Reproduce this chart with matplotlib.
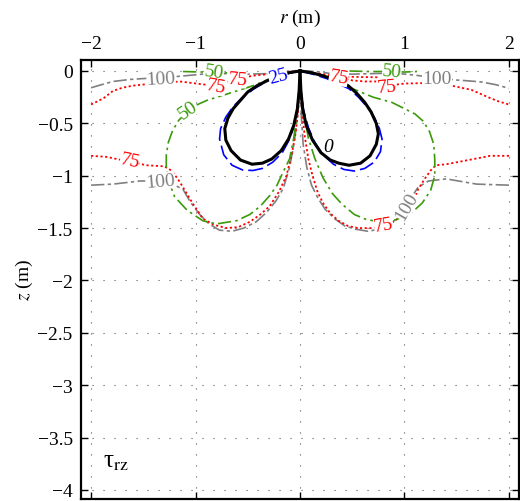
import matplotlib.pyplot as plt
import numpy as np

plt.rcParams['font.family'] = ['Liberation Serif', 'DejaVu Serif']
plt.rcParams['mathtext.fontset'] = 'stix'

# contour lines, (r, z) in metres
c0_left = [(0, 0), (-0.1, -0.015), (-0.19, -0.045), (-0.30, -0.085), (-0.41, -0.14),
           (-0.50, -0.20), (-0.57, -0.28), (-0.64, -0.36), (-0.69, -0.45), (-0.72, -0.55),
           (-0.71, -0.66), (-0.66, -0.76), (-0.57, -0.85), (-0.46, -0.89), (-0.36, -0.88),
           (-0.27, -0.84), (-0.18, -0.76), (-0.11, -0.65), (-0.06, -0.52), (-0.025, -0.36),
           (-0.008, -0.18), (0, 0)]
c0_right = [(0, 0), (0.1, -0.015), (0.2, -0.04), (0.36, -0.09), (0.46, -0.14), (0.54, -0.21),
            (0.62, -0.30), (0.68, -0.39), (0.73, -0.50), (0.75, -0.60), (0.73, -0.70),
            (0.67, -0.81), (0.58, -0.88), (0.47, -0.90), (0.37, -0.88), (0.29, -0.85),
            (0.2, -0.78), (0.12, -0.66), (0.06, -0.52), (0.025, -0.36), (0.008, -0.18), (0, 0)]

c25_left = [(0, 0), (-0.1, -0.02), (-0.2, -0.05), (-0.32, -0.10), (-0.44, -0.17), (-0.55, -0.25),
            (-0.64, -0.34), (-0.71, -0.44), (-0.76, -0.55), (-0.77, -0.65), (-0.73, -0.80),
            (-0.65, -0.90), (-0.55, -0.945), (-0.45, -0.95), (-0.36, -0.93), (-0.26, -0.87),
            (-0.17, -0.78), (-0.11, -0.67), (-0.065, -0.55), (-0.03, -0.38), (-0.01, -0.2), (0, 0)]
c25_right = [(0, 0), (0.12, -0.03), (0.25, -0.07), (0.36, -0.12), (0.47, -0.17), (0.56, -0.25),
             (0.64, -0.34), (0.71, -0.44), (0.76, -0.55), (0.785, -0.65), (0.77, -0.77),
             (0.71, -0.87), (0.62, -0.93), (0.52, -0.955), (0.42, -0.94), (0.32, -0.89),
             (0.22, -0.80), (0.14, -0.68), (0.08, -0.54), (0.035, -0.38), (0.01, -0.2), (0, 0)]

c50_left = [(0, 0), (-0.15, -0.03), (-0.3, -0.08), (-0.45, -0.14), (-0.54, -0.17), (-0.70, -0.22),
            (-0.89, -0.28), (-0.98, -0.32), (-1.07, -0.38), (-1.16, -0.47), (-1.22, -0.57),
            (-1.26, -0.68), (-1.28, -0.80), (-1.28, -0.94), (-1.25, -1.07), (-1.20, -1.20),
            (-1.08, -1.33), (-0.93, -1.43), (-0.80, -1.46), (-0.61, -1.43), (-0.48, -1.37),
            (-0.38, -1.29), (-0.29, -1.19), (-0.22, -1.09), (-0.16, -0.96), (-0.10, -0.84),
            (-0.06, -0.64), (-0.03, -0.42), (-0.01, -0.2), (0, 0)]
c50_right = [(0, 0), (0.15, -0.03), (0.3, -0.08), (0.46, -0.15), (0.53, -0.18), (0.70, -0.25),
             (0.88, -0.30), (1.0, -0.36), (1.10, -0.41), (1.18, -0.48), (1.24, -0.58),
             (1.28, -0.70), (1.29, -0.85), (1.29, -1.0), (1.25, -1.14), (1.17, -1.26),
             (1.06, -1.36), (0.92, -1.42), (0.78, -1.44), (0.64, -1.42), (0.52, -1.37),
             (0.40, -1.27), (0.31, -1.17), (0.22, -1.02), (0.14, -0.83), (0.08, -0.64),
             (0.035, -0.40), (0.01, -0.2), (0, 0)]
c50_top_left = [(-1.12, -0.005), (-0.95, -0.01), (-0.82, -0.01), (-0.68, -0.02), (-0.55, -0.02)]
c50_top_right = [(0.47, 0.0), (0.65, -0.005), (0.88, -0.005), (1.0, -0.01), (1.12, -0.005)]

c75_top_left = [(-2.0, -0.32), (-1.94, -0.29), (-1.88, -0.26), (-1.79, -0.19), (-1.70, -0.16),
                (-1.60, -0.14), (-1.41, -0.12), (-1.15, -0.10), (-0.99, -0.12), (-0.83, -0.14),
                (-0.72, -0.11), (-0.62, -0.08), (-0.45, -0.045), (-0.3, -0.03), (-0.15, -0.01), (0, 0)]
c75_top_right = [(0, 0), (0.15, -0.02), (0.28, -0.04), (0.38, -0.06), (0.50, -0.09), (0.62, -0.10),
                 (0.73, -0.10), (0.83, -0.14), (0.92, -0.13), (1.0, -0.12), (1.22, -0.115),
                 (1.45, -0.14), (1.64, -0.18), (1.80, -0.25), (1.90, -0.29), (2.0, -0.32)]
c75_top_extra = [(0.45, -0.055), (0.60, -0.058), (0.74, -0.06)]
c75_low_left = [(-2.0, -0.81), (-1.85, -0.82), (-1.66, -0.86), (-1.47, -0.90), (-1.30, -0.91),
                (-1.23, -0.95), (-1.17, -1.03), (-1.12, -1.11), (-1.03, -1.26), (-0.93, -1.41),
                (-0.82, -1.47), (-0.70, -1.50), (-0.59, -1.49), (-0.48, -1.44), (-0.38, -1.37),
                (-0.29, -1.29), (-0.20, -1.15), (-0.13, -1.0), (-0.08, -0.80), (-0.04, -0.58),
                (-0.015, -0.35), (0, 0)]
c75_low_right = [(2.0, -0.81), (1.82, -0.81), (1.56, -0.86), (1.40, -0.89), (1.30, -0.90),
                 (1.25, -0.95), (1.20, -1.02), (1.13, -1.13), (1.07, -1.285), (0.98, -1.38),
                 (0.89, -1.44), (0.80, -1.48), (0.68, -1.50), (0.56, -1.50), (0.46, -1.48),
                 (0.37, -1.43), (0.29, -1.36), (0.22, -1.26), (0.17, -1.16), (0.12, -1.0),
                 (0.08, -0.84), (0.045, -0.62), (0.018, -0.38), (0, 0)]

c100_top_left = [(-2.0, -0.16), (-1.88, -0.125), (-1.79, -0.10), (-1.62, -0.08), (-1.46, -0.07),
                 (-1.31, -0.065), (-1.15, -0.05), (-0.93, -0.03), (-0.70, -0.025), (-0.50, -0.03),
                 (-0.29, -0.025), (-0.15, -0.005), (0, 0.005)]
c100_top_right = [(0, 0.005), (0.15, -0.005), (0.30, -0.025), (0.5, -0.03), (0.7, -0.025),
                  (0.91, -0.02), (1.1, -0.04), (1.31, -0.065), (1.48, -0.085), (1.62, -0.095),
                  (1.74, -0.105), (1.87, -0.13), (2.0, -0.165)]
c100_low_left = [(-2.0, -1.09), (-1.79, -1.08), (-1.53, -1.05), (-1.36, -1.05), (-1.22, -1.08),
                 (-1.12, -1.13), (-1.05, -1.25), (-0.96, -1.37), (-0.87, -1.46), (-0.77, -1.52),
                 (-0.65, -1.53), (-0.54, -1.50), (-0.42, -1.44), (-0.32, -1.35), (-0.23, -1.24),
                 (-0.16, -1.12), (-0.10, -0.92), (-0.055, -0.68), (-0.025, -0.44),
                 (-0.008, -0.22), (0, 0)]
c100_low_right = [(2.0, -1.09), (1.69, -1.08), (1.40, -1.03), (1.23, -1.05), (1.13, -1.11),
                  (1.07, -1.20), (1.02, -1.29), (0.94, -1.39), (0.86, -1.47), (0.76, -1.51),
                  (0.65, -1.53), (0.53, -1.51), (0.43, -1.48), (0.33, -1.41), (0.24, -1.32),
                  (0.17, -1.21), (0.11, -1.09), (0.065, -0.92), (0.03, -0.7), (0.012, -0.42), (0, 0)]

x_ticks = [-2, -1, 0, 1, 2]
y_ticks = [0, -0.5, -1, -1.5, -2, -2.5, -3, -3.5, -4]

fig = plt.figure(figsize=(5.2, 5.02), dpi=100)
ax = fig.add_axes([0.1558, 0.004, 0.8423, 0.8745])

gray = '#808080'
red = '#ff0000'
green = '#3a9a0a'
blue = '#0000ff'

def draw(pts, **kw):
    a = np.array(pts)
    ax.plot(a[:, 0], a[:, 1], **kw)

for c in [c100_top_left, c100_top_right, c100_low_left, c100_low_right]:
    draw(c, color=gray, lw=1.2, dashes=(8, 2, 2, 2), zorder=2)
for c in [c75_top_left, c75_top_right, c75_top_extra, c75_low_left, c75_low_right]:
    draw(c, color=red, lw=1.3, dashes=(1.2, 1.4), zorder=3)
for c in [c50_left, c50_right, c50_top_left, c50_top_right]:
    draw(c, color=green, lw=1.2, dashes=(8, 2.5, 1.5, 2.5), zorder=4)
for c in [c25_left, c25_right]:
    draw(c, color=blue, lw=1.2, dashes=(9, 3), zorder=5)
for c in [c0_left, c0_right]:
    draw(c, color='black', lw=2.2, zorder=6)

def lab(r, z, s, col, rot=0, style='normal'):
    ax.text(r, z, s, color=col, fontsize=14, rotation=rot, style=style,
            ha='center', va='center', zorder=8,
            bbox=dict(boxstyle='square,pad=0.0', fc='white', ec='none'))

lab(-1.33, -0.07, '100', gray, 3)
lab(-0.82, -0.01, '50', green, -8)
lab(-0.80, -0.15, '75', red, -10)
lab(-0.60, -0.08, '75', red, -5)
lab(-0.21, -0.05, '25', blue, 15)
lab(-1.07, -0.37, '50', green, 35)
lab(-1.63, -0.86, '75', red, -12)
lab(-1.34, -1.05, '100', gray, 5)
lab(0.37, -0.06, '75', red, -10)
lab(0.88, -0.0, '50', green, -5)
lab(0.83, -0.15, '75', red, 5)
lab(1.31, -0.07, '100', gray, 0)
lab(0.80, -1.47, '75', red, 10)
lab(1.02, -1.29, '100', gray, 60)
ax.text(0.27, -0.72, '0', color='black', fontsize=14, style='italic',
        ha='center', va='center', zorder=8)

ax.text(-1.89, -3.72, 'τ$_{\\mathrm{rz}}$', fontsize=18, ha='left', va='center')

ax.set_xlim(-2.096, 2.096)
ax.set_ylim(-4.086, 0.105)
ax.set_xticks(x_ticks)
ax.set_yticks(y_ticks)
ax.set_xticklabels(['\u22122', '\u22121', '0', '1', '2'])
ax.set_yticklabels(['0', '\u22120.5', '\u22121', '\u22121.5', '\u22122', '\u22122.5',
                    '\u22123', '\u22123.5', '\u22124'])
ax.tick_params(direction='in', top=True, right=True, bottom=True, left=True,
               labeltop=True, labelbottom=False, labelsize=14, length=5, width=1, pad=6)
ax.xaxis.set_label_position('top')
ax.set_xlabel(r'$r$ (m)', fontsize=14, labelpad=9)
ax.set_ylabel(r'$z$ (m)', fontsize=14, labelpad=2)
ax.grid(True, color='0.35', lw=0.8, dashes=(1, 8.9))
for s in ax.spines.values():
    s.set_linewidth(1.6)

fig.savefig('out.png', dpi=100)
